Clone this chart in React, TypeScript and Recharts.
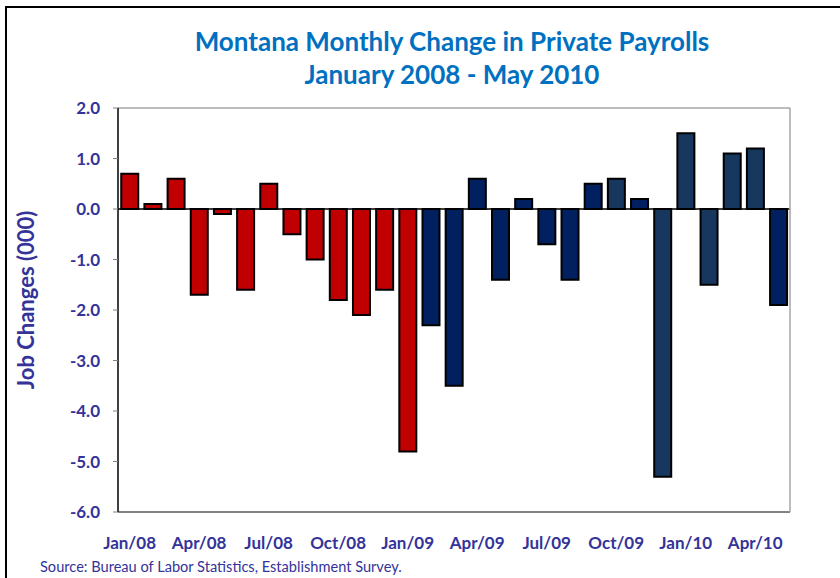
import { BarChart, Bar, XAxis, YAxis, Cell, ReferenceLine } from 'recharts'

// Months, Jan 2008 - May 2010
const months = [
  'Jan/08', 'Feb/08', 'Mar/08', 'Apr/08', 'May/08', 'Jun/08',
  'Jul/08', 'Aug/08', 'Sep/08', 'Oct/08', 'Nov/08', 'Dec/08',
  'Jan/09', 'Feb/09', 'Mar/09', 'Apr/09', 'May/09', 'Jun/09',
  'Jul/09', 'Aug/09', 'Sep/09', 'Oct/09', 'Nov/09', 'Dec/09',
  'Jan/10', 'Feb/10', 'Mar/10', 'Apr/10', 'May/10',
]

// Job changes (000)
const jobChanges = [
  0.7, 0.1, 0.6, -1.7, -0.1, -1.6,
  0.5, -0.5, -1.0, -1.8, -2.1, -1.6,
  -4.8, -2.3, -3.5, 0.6, -1.4, 0.2,
  -0.7, -1.4, 0.5, 0.6, 0.2, -5.3,
  1.5, -1.5, 1.1, 1.2, -1.9,
]

const yTicks = [2, 1, 0, -1, -2, -3, -4, -5, -6]

const RED = '#c00000'
const NAVY = '#002060'
const SLATE = '#17375e'
const BAR_COLORS = [
  RED, RED, RED, RED, RED, RED, RED, RED, RED, RED, RED, RED, RED,
  NAVY, NAVY, NAVY, NAVY, NAVY, NAVY, NAVY, NAVY,
  SLATE, NAVY, SLATE, SLATE, SLATE, SLATE, SLATE, NAVY,
]

const TEXT_BLUE = '#333399'
const FONT = 'Lato, "Open Sans", sans-serif'

const data = months.map((month, i) => ({ month, value: jobChanges[i] }))

export default function App() {
  return (
    <div
      style={{
        position: 'absolute',
        left: 0,
        top: 0,
        width: 840,
        height: 578,
        background: '#fff',
        overflow: 'hidden',
        fontFamily: FONT,
      }}
    >
      {/* outer frame (cropped at right/bottom) */}
      <div
        style={{
          position: 'absolute',
          left: 5,
          top: 6,
          width: 900,
          height: 700,
          borderLeft: '2px solid #000',
          borderTop: '2px solid #000',
        }}
      />

      {/* title */}
      <div
        style={{
          position: 'absolute',
          left: 52,
          width: 800,
          top: 25,
          textAlign: 'center',
          color: '#0070c0',
          fontWeight: 700,
          fontSize: 26,
          lineHeight: '33px',
        }}
      >
        Montana Monthly Change in Private Payrolls
        <br />
        January 2008 - May 2010
      </div>

      {/* y axis title */}
      <div
        style={{
          position: 'absolute',
          left: 25,
          top: 300,
          transform: 'translate(-50%, -50%) rotate(-90deg)',
          whiteSpace: 'nowrap',
          color: TEXT_BLUE,
          fontWeight: 700,
          fontSize: 22,
        }}
      >
        Job Changes (000)
      </div>

      <div style={{ position: 'absolute', left: 0, top: 0 }}>
        <BarChart
          width={840}
          height={578}
          data={data}
          margin={{ top: 107, right: 49, bottom: 36, left: 58 }}
          barCategoryGap="14%"
        >
          <XAxis
            dataKey="month"
            interval={2}
            tickLine={false}
            tickSize={0}
            tickMargin={25}
            axisLine={{ stroke: '#595959', strokeWidth: 1.5 }}
            tick={{ fill: TEXT_BLUE, fontSize: 17, fontWeight: 700, fontFamily: FONT }}
            height={30}
          />
          <XAxis
            xAxisId="top"
            orientation="top"
            dataKey="month"
            tick={false}
            tickLine={false}
            axisLine={{ stroke: '#a6a6a6', strokeWidth: 1.5 }}
            height={1}
          />
          <YAxis
            domain={[-6, 2]}
            ticks={yTicks}
            interval={0}
            width={60}
            tickSize={5}
            tickMargin={13}
            tickLine={{ stroke: '#808080' }}
            axisLine={{ stroke: '#000', strokeWidth: 1.5 }}
            tickFormatter={(v: number) => v.toFixed(1)}
            tick={{ fill: TEXT_BLUE, fontSize: 17, fontWeight: 700, fontFamily: FONT }}
          />
          <YAxis
            yAxisId="right"
            orientation="right"
            tick={false}
            tickLine={false}
            axisLine={{ stroke: '#a6a6a6', strokeWidth: 1.5 }}
            width={1}
          />
          <ReferenceLine y={0} stroke="#000" strokeWidth={1.5} />
          <Bar dataKey="value" stroke="#000" strokeWidth={2} isAnimationActive={false}>
            {data.map((d, i) => (
              <Cell key={d.month} fill={BAR_COLORS[i]} />
            ))}
          </Bar>
        </BarChart>
      </div>

      {/* source note */}
      <div
        style={{
          position: 'absolute',
          left: 40,
          top: 558,
          color: TEXT_BLUE,
          fontSize: 14.6,
          whiteSpace: 'nowrap',
        }}
      >
        Source: Bureau of Labor Statistics, Establishment Survey.
      </div>
    </div>
  )
}
